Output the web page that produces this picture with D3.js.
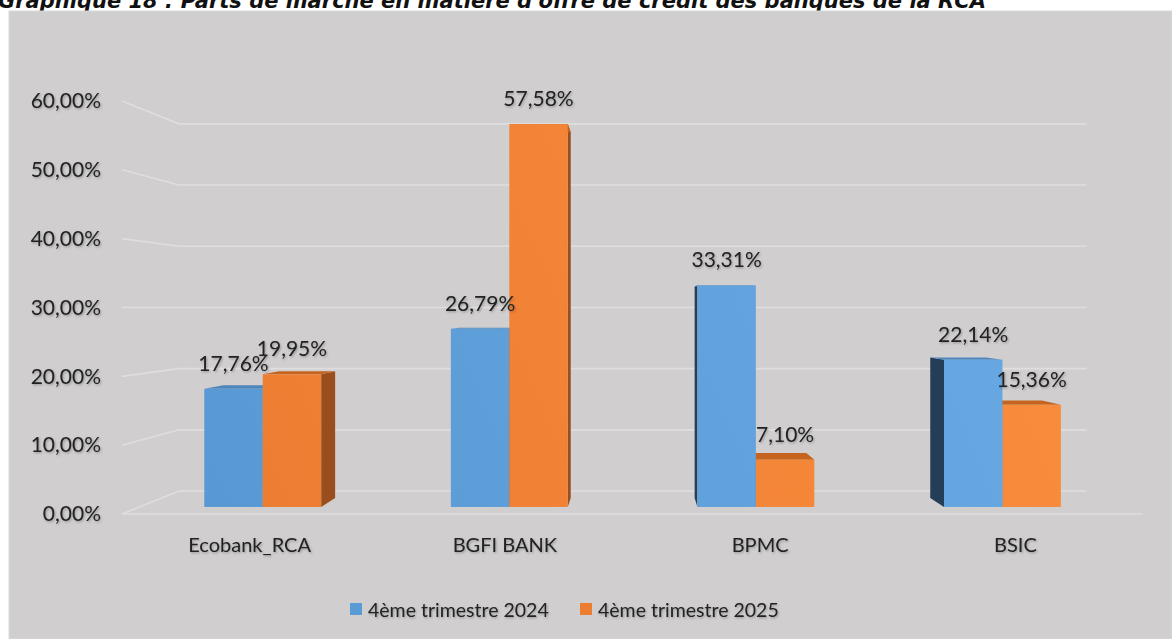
<!DOCTYPE html>
<html><head><meta charset="utf-8">
<script src="https://cdn.jsdelivr.net/npm/d3@7"></script>
<style>
html,body{margin:0;padding:0;background:#fff;}
svg{display:block;}
</style></head>
<body>
<svg id="chart" width="1172" height="639"></svg>
<script>
// ---- data ----
const title = "Graphique 18 : Parts de marché en matière d'offre de crédit des banques de la RCA";
const categories = ["Ecobank_RCA", "BGFI BANK", "BPMC", "BSIC"];
const seriesNames = ["4ème trimestre 2024", "4ème trimestre 2025"];
const values2024 = [17.76, 26.79, 33.31, 22.14];
const values2025 = [19.95, 57.58, 7.10, 15.36];
const yTicks = [0, 10, 20, 30, 40, 50, 60];

const fmt = v => d3.format(".2f")(v).replace(".", ",") + "%";

const svg = d3.select("#chart");
const W = 1172, H = 639;
const FONT = "Lato, 'Open Sans', sans-serif";

// ---- perspective setup ----
const vp = [635, 307];
const sBack = 0.889, sBarFront = 0.966, sBarBack = 0.923;
const proj = (X, Y, s) => [vp[0] + (X - vp[0]) * s, vp[1] + (Y - vp[1]) * s];

const x = d3.scaleBand().domain(categories).range([122, 1143]).padding(0);
const y = d3.scaleLinear().domain([0, 60]).range([514, 101]);
const groupW = x.bandwidth() * 0.474;
const xs = d3.scaleBand().domain([0, 1]).range([0, groupW]).padding(0);

// ---- defs ----
const defs = svg.append("defs");
const gB = defs.append("linearGradient").attr("id", "gBlue")
  .attr("gradientUnits", "userSpaceOnUse").attr("x1", 150).attr("y1", 520).attr("x2", 1100).attr("y2", 120);
gB.append("stop").attr("offset", 0).attr("stop-color", "#5797d2");
gB.append("stop").attr("offset", 1).attr("stop-color", "#6aaae5");
const gO = defs.append("linearGradient").attr("id", "gOrange")
  .attr("gradientUnits", "userSpaceOnUse").attr("x1", 150).attr("y1", 520).attr("x2", 1100).attr("y2", 120);
gO.append("stop").attr("offset", 0).attr("stop-color", "#eb7b30");
gO.append("stop").attr("offset", 1).attr("stop-color", "#fb8e3e");
const sh = defs.append("filter").attr("id", "tshadow").attr("x", "-10%").attr("y", "-30%").attr("width", "130%").attr("height", "170%");
sh.append("feDropShadow").attr("dx", 1).attr("dy", 1.2).attr("stdDeviation", 0.9)
  .attr("flood-color", "#000").attr("flood-opacity", 0.28);

// ---- title (partly hidden by panel, as in the source) ----
svg.append("text").attr("x", -2).attr("y", 8)
  .attr("font-family", "'DejaVu Sans', 'Liberation Sans', sans-serif")
  .attr("font-weight", "bold").attr("font-style", "italic")
  .attr("font-size", 21).attr("fill", "#111").text(title);

// ---- panel ----
svg.append("rect").attr("x", 9).attr("y", 11).attr("width", W - 9).attr("height", H - 11)
  .attr("fill", "#d0cecf").attr("stroke", "#dad9d9").attr("stroke-width", 1);

// ---- gridlines: back wall, left wall, floor ----
const grid = svg.append("g").attr("stroke", "#dfdede").attr("stroke-width", 1.6).attr("fill", "none");
const xL = x.range()[0], xR = x.range()[1];
yTicks.forEach(t => {
  const a = proj(xL, y(t), 1), b = proj(xL, y(t), sBack), c = proj(xR, y(t), sBack);
  grid.append("path").attr("d", d3.line()([a, b, c]));
});
grid.append("path").attr("d", d3.line()([proj(xL, y(0), 1), proj(xR, y(0), 1)]));

// ---- y tick labels ----
svg.append("g").selectAll("text").data(yTicks).join("text")
  .attr("x", 101).attr("y", d => y(d) + 2)
  .attr("text-anchor", "end").attr("dominant-baseline", "middle")
  .attr("font-family", FONT).attr("font-size", 21).attr("fill", "#222")
  .attr("filter", "url(#tshadow)")
  .text(d => fmt(d));

// ---- bars ----
const bars = [];
categories.forEach((c, i) => {
  [values2024[i], values2025[i]].forEach((v, k) => {
    const X0 = x(c) + (x.bandwidth() - groupW) / 2 + xs(k);
    bars.push({ c, k, v, X0, X1: X0 + xs.bandwidth() });
  });
});
bars.sort((a, b) => Math.abs((b.X0 + b.X1) / 2 - vp[0]) - Math.abs((a.X0 + a.X1) / 2 - vp[0]));

const frontFill = ["url(#gBlue)", "url(#gOrange)"];
const sideFill = ["#253e57", "#9a4e1d"];
const topFill = ["#4c86bd", "#c4641f"];
const gBars = svg.append("g");
bars.forEach(b => {
  const Yt = y(b.v), Yb = y(0);
  const f = (X, Y) => proj(X, Y, sBarFront), r = (X, Y) => proj(X, Y, sBarBack);
  const poly = pts => "M" + pts.map(p => p.join(",")).join("L") + "Z";
  const cx = (b.X0 + b.X1) / 2;
  const sideX = cx < vp[0] ? b.X1 : b.X0;
  gBars.append("path").attr("d", poly([f(sideX, Yb), f(sideX, Yt), r(sideX, Yt), r(sideX, Yb)]))
    .attr("fill", sideFill[b.k]);
  gBars.append("path").attr("d", poly([f(b.X0, Yt), f(b.X1, Yt), r(b.X1, Yt), r(b.X0, Yt)]))
    .attr("fill", topFill[b.k]);
  const p0 = f(b.X0, Yt), p1 = f(b.X1, Yb);
  gBars.append("rect").attr("x", p0[0]).attr("y", p0[1])
    .attr("width", p1[0] - p0[0]).attr("height", p1[1] - p0[1])
    .attr("fill", frontFill[b.k]);
  b.labelPos = [(p0[0] + p1[0]) / 2, p0[1] - 18];
});

// ---- data labels ----
svg.append("g").selectAll("text").data(bars).join("text")
  .attr("x", d => d.labelPos[0]).attr("y", d => d.labelPos[1])
  .attr("text-anchor", "middle")
  .attr("font-family", FONT).attr("font-size", 21).attr("fill", "#222")
  .attr("filter", "url(#tshadow)")
  .text(d => fmt(d.v));

// ---- category labels ----
svg.append("g").selectAll("text").data(categories).join("text")
  .attr("x", d => x(d) + x.bandwidth() / 2).attr("y", 552)
  .attr("text-anchor", "middle")
  .attr("font-family", FONT).attr("font-size", 20).attr("fill", "#222")
  .attr("filter", "url(#tshadow)")
  .text(d => d);

// ---- legend ----
const legColors = ["#5b9bd5", "#ed7d31"];
const legX = [350, 580];
const leg = svg.append("g");
seriesNames.forEach((n, i) => {
  leg.append("rect").attr("x", legX[i]).attr("y", 603).attr("width", 12).attr("height", 12).attr("fill", legColors[i]);
  leg.append("text").attr("x", legX[i] + 18).attr("y", 617)
    .attr("font-family", FONT).attr("font-size", 19.5).attr("fill", "#222")
    .attr("filter", "url(#tshadow)").text(n);
});
</script>
</body></html>
